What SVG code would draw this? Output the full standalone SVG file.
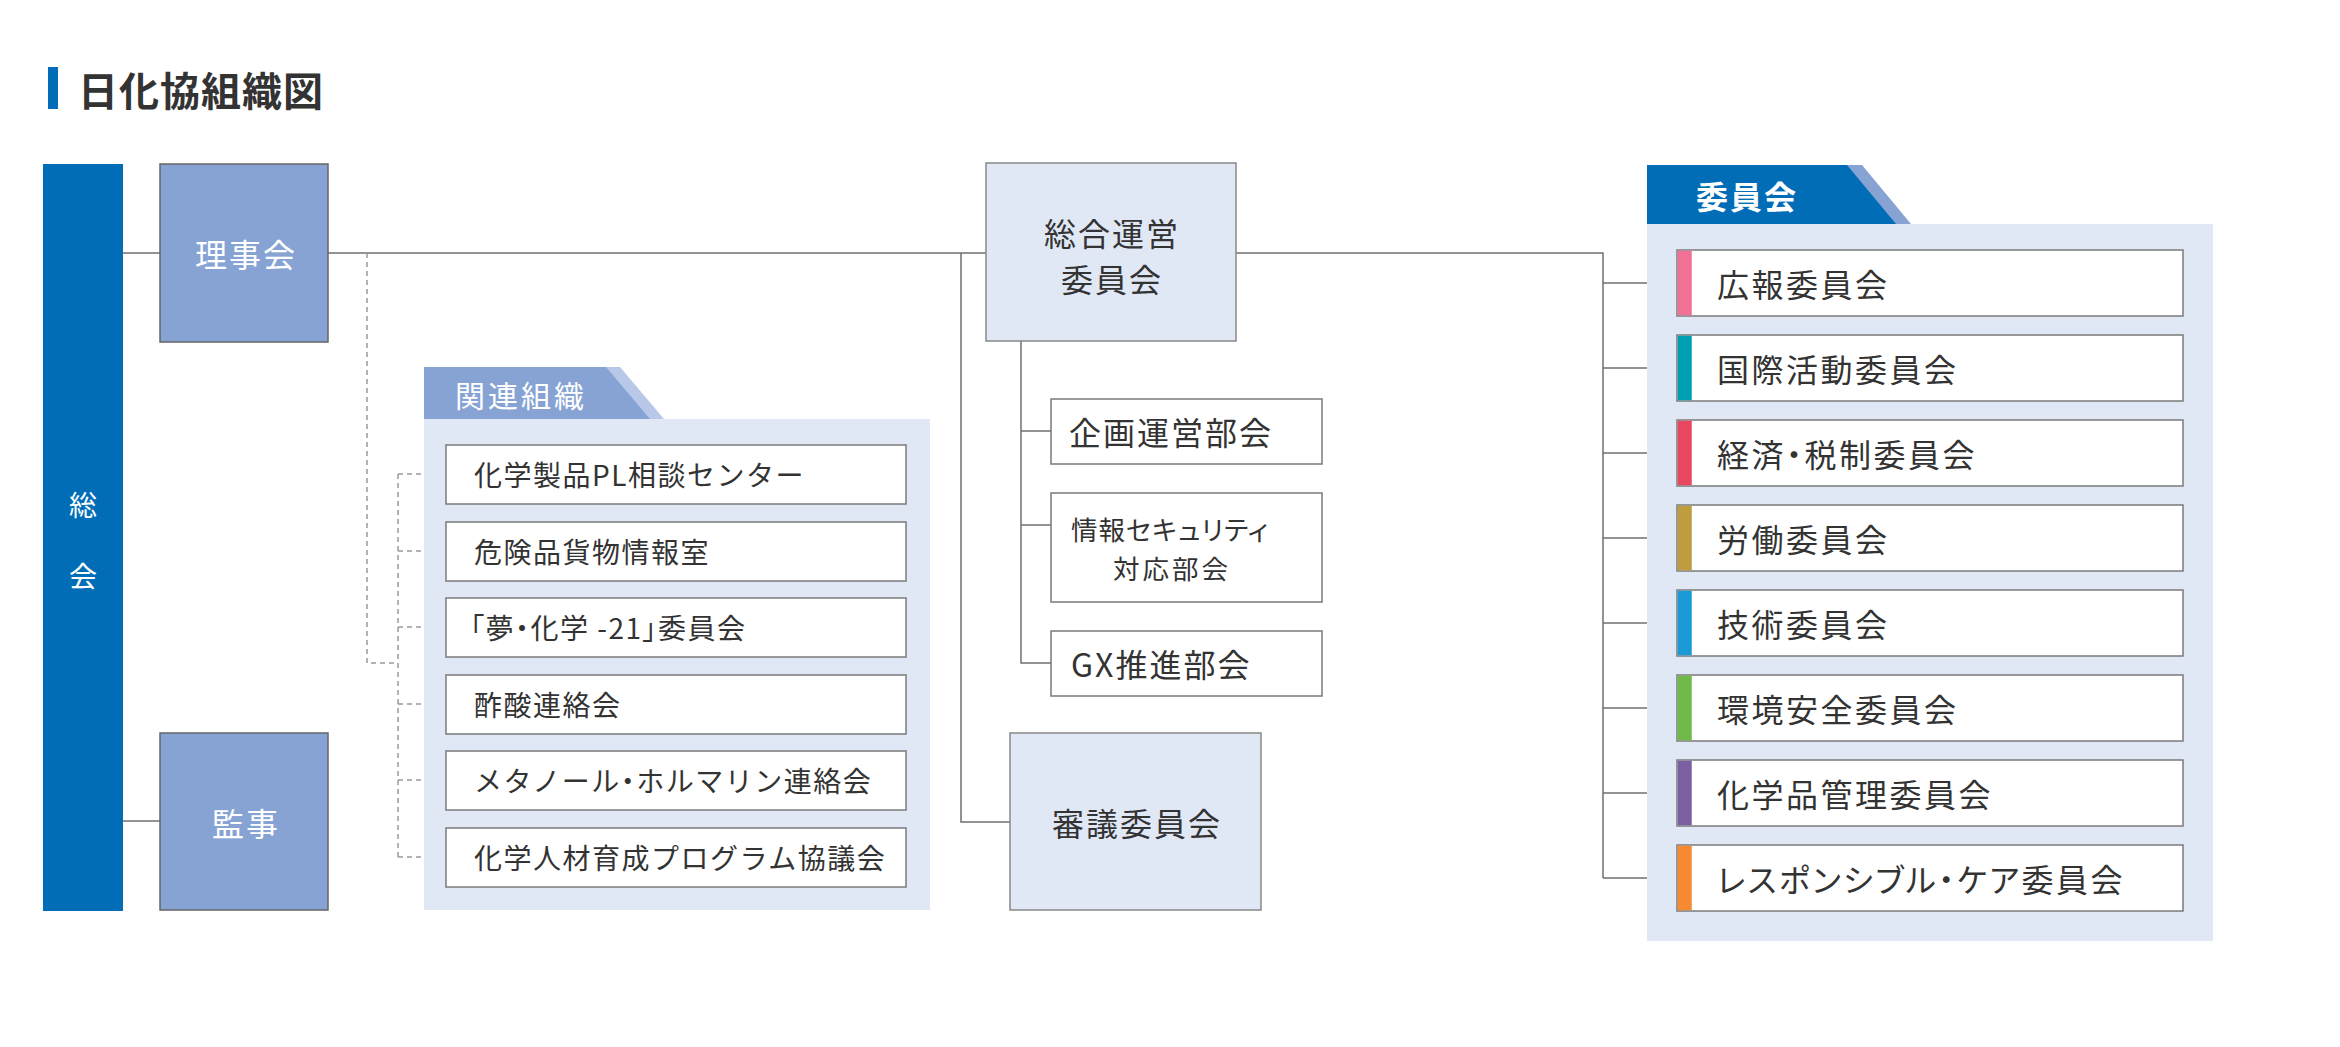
<svg xmlns="http://www.w3.org/2000/svg" width="2340" height="1047" viewBox="0 0 2340 1047">
<style>
text{font-family:"Noto Sans CJK JP","Noto Sans",sans-serif;dominant-baseline:central;fill:#333}
.title{font-size:40px;font-weight:700;letter-spacing:1px}
.white{fill:#fff}
.dark{fill:#86a3d4;stroke:#666;stroke-width:1.5}
.light{fill:#e1e8f5;stroke:#888;stroke-width:1.5}
.wbox{fill:#fff;stroke:#7a7a7a;stroke-width:1.5}
.panel{fill:#e1e8f5}
.big{font-size:32px;letter-spacing:2px}
.mid{font-size:28px;letter-spacing:1.5px}
.com{font-size:32px;letter-spacing:2.5px;font-feature-settings:"palt"}
.palt{font-feature-settings:"palt"}
.line{fill:none;stroke:#707070;stroke-width:1.5}
.dash{fill:none;stroke:#9a9a9a;stroke-width:1.5;stroke-dasharray:5 4}
</style>
<rect x="48" y="67" width="10" height="42" fill="#016db6"/>
<text class="title" x="78" y="89">日化協組織図</text>

<g id="connectors">
<path class="line" d="M123 253H160M328 253H986M961 253V822H1010M1236 253H1603V878"/>
<path class="line" d="M123 821H160"/>
<path class="line" d="M1021 341V663H1051M1021 431H1051M1021 525H1051"/>
<path class="line" d="M1603 283H1677M1603 368H1677M1603 453H1677M1603 538H1677M1603 623H1677M1603 708H1677M1603 793H1677M1603 878H1677"/>
<path class="dash" d="M367 253V663H398M398 474V857M398 474H446M398 551H446M398 627H446M398 704H446M398 780H446M398 857H446"/>
</g>

<g id="soukai">
<rect x="43" y="164" width="80" height="747" fill="#016db6"/>
<text class="white" x="83" y="504" font-size="28" text-anchor="middle">総</text>
<text class="white" x="83" y="575" font-size="28" text-anchor="middle">会</text>
</g>
<g id="rijikai">
<rect class="dark" x="160" y="164" width="168" height="178"/>
<text class="white big" x="246" y="253" text-anchor="middle">理事会</text>
</g>
<g id="kanji">
<rect class="dark" x="160" y="733" width="168" height="177"/>
<text class="white big" x="246" y="822" text-anchor="middle">監事</text>
</g>

<g id="kanren">
<rect class="panel" x="424" y="419" width="506" height="491"/>
<polygon points="424,367 620,367 664,419 424,419" fill="#b9c8e8"/>
<polygon points="424,367 606,367 650,419 424,419" fill="#86a3d4"/>
<text class="white" x="455" y="394" font-size="30" letter-spacing="3">関連組織</text>
</g>
<g id="kanren-1"><rect class="wbox" x="446" y="445" width="460" height="59"/><text class="mid" x="474" y="474">化学製品PL相談センター</text></g>
<g id="kanren-2"><rect class="wbox" x="446" y="522" width="460" height="59"/><text class="mid" x="474" y="551">危険品貨物情報室</text></g>
<g id="kanren-3"><rect class="wbox" x="446" y="598" width="460" height="59"/><text class="mid palt" x="470" y="627">「夢・化学 -21」委員会</text></g>
<g id="kanren-4"><rect class="wbox" x="446" y="675" width="460" height="59"/><text class="mid" x="474" y="704">酢酸連絡会</text></g>
<g id="kanren-5"><rect class="wbox" x="446" y="751" width="460" height="59"/><text class="mid" x="474" y="780" letter-spacing="0.2">メタノール<tspan class="palt">・</tspan>ホルマリン連絡会</text></g>
<g id="kanren-6"><rect class="wbox" x="446" y="828" width="460" height="59"/><text class="mid" x="474" y="857" letter-spacing="1">化学人材育成プログラム協議会</text></g>

<g id="sougou">
<rect class="light" x="986" y="163" width="250" height="178"/>
<text class="big" text-anchor="middle"><tspan x="1112" y="232">総合運営</tspan><tspan x="1112" y="278">委員会</tspan></text>
</g>
<g id="kikaku"><rect class="wbox" x="1051" y="399" width="271" height="65"/><text class="big" x="1069" y="431">企画運営部会</text></g>
<g id="joho"><rect class="wbox" x="1051" y="493" width="271" height="109"/>
<text font-size="26.5" text-anchor="middle"><tspan class="palt" x="1170" y="528" letter-spacing="1">情報セキュリティ</tspan><tspan x="1172" y="567" letter-spacing="3">対応部会</tspan></text></g>
<g id="gx"><rect class="wbox" x="1051" y="631" width="271" height="65"/><text class="big" x="1071" y="663" letter-spacing="4">GX推進部会</text></g>
<g id="shingi">
<rect class="light" x="1010" y="733" width="251" height="177"/>
<text class="big" x="1137" y="822" text-anchor="middle">審議委員会</text>
</g>

<g id="iinkai">
<rect class="panel" x="1647" y="224" width="566" height="717"/>
<polygon points="1647,165 1862,165 1911,224 1647,224" fill="#86a3d4"/>
<polygon points="1647,165 1847,165 1896,224 1647,224" fill="#016db6"/>
<text class="white big" x="1696" y="195" font-weight="700">委員会</text>
</g>
<g id="c1"><rect class="wbox" x="1677" y="250" width="506" height="66"/><rect x="1677.75" y="250.75" width="14" height="64.5" fill="#f07096"/><text class="com" x="1717" y="283">広報委員会</text></g>
<g id="c2"><rect class="wbox" x="1677" y="335" width="506" height="66"/><rect x="1677.75" y="335.75" width="14" height="64.5" fill="#00a0b4"/><text class="com" x="1717" y="368">国際活動委員会</text></g>
<g id="c3"><rect class="wbox" x="1677" y="420" width="506" height="66"/><rect x="1677.75" y="420.75" width="14" height="64.5" fill="#e8475f"/><text class="com" x="1717" y="453">経済・税制委員会</text></g>
<g id="c4"><rect class="wbox" x="1677" y="505" width="506" height="66"/><rect x="1677.75" y="505.75" width="14" height="64.5" fill="#bf9d3e"/><text class="com" x="1717" y="538">労働委員会</text></g>
<g id="c5"><rect class="wbox" x="1677" y="590" width="506" height="66"/><rect x="1677.75" y="590.75" width="14" height="64.5" fill="#1a9ad6"/><text class="com" x="1717" y="623">技術委員会</text></g>
<g id="c6"><rect class="wbox" x="1677" y="675" width="506" height="66"/><rect x="1677.75" y="675.75" width="14" height="64.5" fill="#6fbb4a"/><text class="com" x="1717" y="708">環境安全委員会</text></g>
<g id="c7"><rect class="wbox" x="1677" y="760" width="506" height="66"/><rect x="1677.75" y="760.75" width="14" height="64.5" fill="#7b5fa0"/><text class="com" x="1717" y="793">化学品管理委員会</text></g>
<g id="c8"><rect class="wbox" x="1677" y="845" width="506" height="66"/><rect x="1677.75" y="845.75" width="14" height="64.5" fill="#f58a32"/><text class="com" x="1717" y="878" letter-spacing="2">レスポンシブル・ケア委員会</text></g>
</svg>
